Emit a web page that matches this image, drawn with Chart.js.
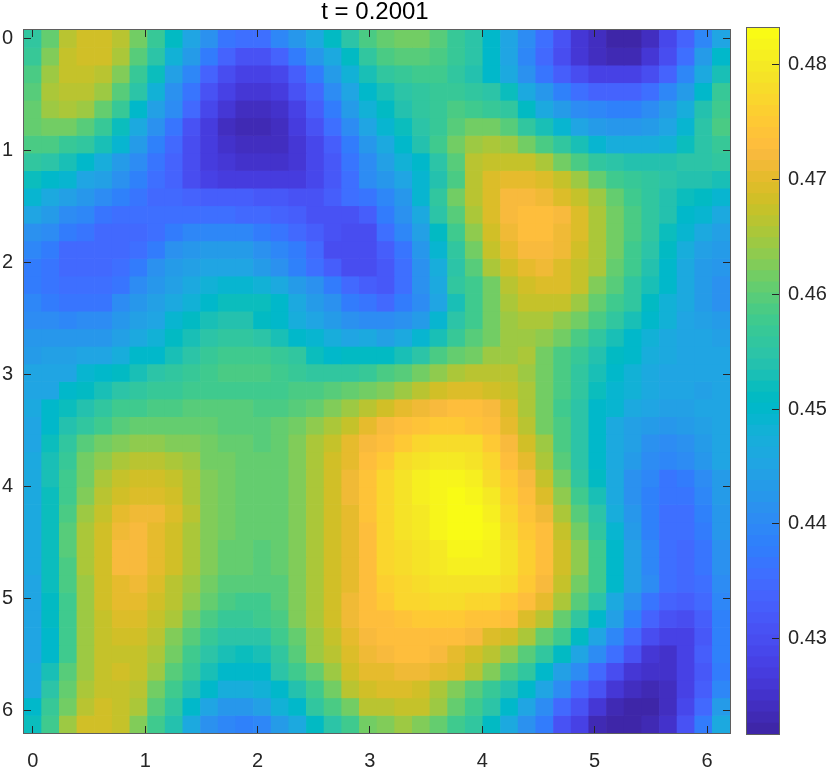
<!DOCTYPE html>
<html>
<head>
<meta charset="utf-8">
<title>t = 0.2001</title>
<script src="https://cdn.jsdelivr.net/npm/chart.js@4"></script>
<style>
    body { margin: 0; background: #fff; }
    canvas { position: absolute; top: 0; }
    #field { left: 0; }
    #bar { left: 746px; }
</style>
</head>
<body>
<canvas id="field" width="750" height="767"></canvas>
<canvas id="bar" width="84" height="767"></canvas>
<script>
const titleText = "t = 0.2001";
const xTicks = [0, 1, 2, 3, 4, 5, 6];
const yTicks = [0, 1, 2, 3, 4, 5, 6];
const barTicks = [0.43, 0.44, 0.45, 0.46, 0.47, 0.48];
const cellStep = 0.15708;
const axisMin = -0.07854;
const axisMax = 6.20465;
const zMin = 0.4217;
const zMax = 0.4832;

// field values, in thousandths. one row per y cell, top to bottom
const field = [
[455.5,460.5,466,468,468.3,466,462,457,451,445.5,441,437,436,436,439,442.5,446.5,451,455,458.5,461,462,462,459.5,457,455,450.5,445,440,435.5,430.5,426.5,424,422,422,424.5,428.5,434,439.5,445.5],
[456.5,463,467,468,468,465.5,460,455,448,443,437.5,433.5,431,431,433.5,437.5,442,446.5,451,455.5,459,459.5,460,458.5,456.5,454.5,450,445,439,434.5,429.5,426,424,423.2,423.6,426,430,436,443.5,450.5],
[458.5,464.5,467,467.5,466.5,462.5,457,451.5,444.5,439,434,430,428,427.8,429,432.5,438,443.5,448,452.5,456,457,457.5,457.5,456,454,450.5,446,441,436.5,433,430,428,427.5,428,430,434,439,446.5,453],
[460,465,466.5,466,464.5,459.5,454.5,448,441,436.5,430.5,427.5,426.3,426,427.3,430.5,435,440.5,445.5,450.5,453,455,456,456.5,456.5,455.5,454.5,451.5,446.5,442.5,438.5,435.5,434,433.5,434,435.5,439,443.5,450,456.5],
[460.5,464,465,464,460.5,456.5,450.5,444.5,440,434.5,429,426,424.5,424.3,425.5,428,433,438,443.5,448,451,453.5,455.5,457,458.5,458,457,455.5,451,446.5,443.5,440.5,439,438.5,438.5,440.5,443.5,447.5,454,457.5],
[461,462,462,459.5,456.5,452,446.5,441,436.5,431,427,424.5,423.5,423.3,424.2,427,431,436,440.5,445,449,452,455,457,460,461.5,461.5,459.5,456,452.5,449,445,443,442.5,442.5,443,445.5,449,455,458.5],
[458.5,458.5,457,455.5,452.5,449,443,438.5,435,430,427,424.8,424,423.8,424.3,426,429,433,437.5,442.5,446.5,450,454,457.5,462,464.5,465.5,464,461.5,458.5,456,452.5,449.5,447.5,447,447,448.5,452,455,457],
[455.5,455,453,450,447.5,443.5,440,437,433.5,429.5,427.2,425.8,425,424.8,425,426.3,428.7,431.8,436.5,440.5,444.5,448,450,455,460,466,467.5,467.5,467,465,461.5,458.5,456,454.5,453.5,453.5,453.5,454.5,455,455.5],
[452,450.5,449,445.5,444,441,438.5,435.5,433.5,430,428,427.3,426.8,426.8,426.8,427.2,428.5,431.5,436,440.5,442.5,445,449,454,459,466,469.5,470,470,469.5,467,464,460.5,458,457,455.5,454.5,453.5,453.5,453],
[449.5,446,444.5,442,440.5,438.5,436.5,435,435,433.5,432.5,432.5,432.5,432,431.5,431,431,432.5,435.5,437,439.5,442.5,449.5,456,461.5,466,469.5,472,472,471.5,469.5,467,464,460.5,458,455.5,454,452,451,449.5],
[445,443,440.5,439,437,436,436,436,435.5,435.5,435.5,435.5,435,434.5,433.5,433,431,430.5,431,433,437.5,441,446,454.5,460,465.5,469,472,473,473,472,469,465.5,461.5,459,456,453.5,450.5,449,446.5],
[441.5,440.5,438,436.5,435,435,435,436,437.5,439,439,439,439,438,437,435,433,430.5,430,430,435.5,439,444.5,451,458,463.5,468,471,473,473,471.5,469,465.5,461.5,458.5,455.5,451.5,449.5,446,444.5],
[439,437.5,435,434.5,434.5,435,436,438,441,442,443,443,443,441,439.5,437.5,434.5,430,429.5,429.5,432.5,437,442.5,449.5,456,461.5,467,470.5,472,472.5,471,468.5,465.5,461.5,458,455,451,447.5,444.5,443],
[438,437,435,434.5,434.5,435.5,437.5,441,443,444,445,445,445,443,441,438.5,435.5,433,429.5,429.5,431.5,436,441,447.5,455,460,465,468,470,471,469.5,467.5,465,461,457.5,453.5,450,446,443,442],
[438,437,435.5,435.5,435.5,437,440,442.5,444,446.5,448,449,449,448,446.5,443,441,437.5,435,433,431.5,435.5,441,446.5,455.5,458,462,466.5,468.5,469.5,469,467,463,460,455.5,452.5,450,446,443,441],
[439,438,437,436.5,437,440,442.5,444.5,446,448.5,450.5,451.5,451.5,451.5,450,446.5,443.5,441,438,437,434.5,437.5,440.5,445.5,453,458,461.5,465.5,467,467.5,467,464,461,458,455.5,451,448,446,443,441],
[440.5,440,439,440,440,442.5,444,445.5,449.5,451,452.5,453.5,453.5,451,450,447.5,445,443,441,440.5,440,441,443,449.5,455,458,461.5,464.5,465.5,465.5,463.5,461.5,458.5,455.5,452.5,450,448,445.5,444,443],
[442.5,442.5,442.5,442.5,442.5,444.5,446,448.5,451,453,455,456,456,454.5,452.5,450,449.5,447.5,445.5,446,444.5,446,449.5,453,456.5,459.5,461.5,464,464.5,463.5,461.5,459,455.5,452.5,450,448,446.5,445.5,445,444.5],
[443.5,444,444.5,445,445,447,450,450,453,455,456.5,457.5,457.5,457.5,457,455.5,452,450.5,451,451,451,452.5,454.5,458.5,461,462,464.5,464.5,465,462,459,456.5,453.5,451,450,447.5,446,445.5,445,445],
[445,445,445.5,449,450,451,452.5,454.5,455.5,456.5,458,458.5,458.5,458.5,458,457,456,456,456,457,458.5,460,462,463.5,465,466,466,466,464.5,461.5,458.5,455.5,452.5,450,448,446.5,445.5,445,445,445],
[445,445.5,450.5,451,452.5,454.5,455.5,456.5,457,457.5,458,458,458,458,458,458.5,459,459.5,461,462,463,464.5,466,468,469.5,469.5,468.5,467,465,461.5,458.5,455.5,452,449.5,448,446,445.5,445,444.5,445],
[446,450,451.5,453.5,455.5,457.5,458,458.5,459,459.5,459.5,459.5,459.5,459,459,459.5,460.5,462.5,464.5,466.5,468,470,471,472.5,473,473,472,469,465.5,461.5,458,454.5,450.5,449.5,446.5,445,444.5,444.5,445,445.5],
[445.5,450.5,453.5,455.5,458,460,460.5,461,461,461,460.5,460,460,460,460.5,461.5,463.5,465.5,467.5,470,472,473,474,475,475.5,474.5,473,470.5,466.5,462,458.5,454.5,450,446.5,444.5,443,442.5,443,444.5,445.5],
[445.5,452,456,459.5,461.5,463,463.5,463.5,463,462.5,462,461,460.5,460,461,462.5,465,467.5,470,472,473.5,475,476.5,477.5,478,477.5,475,472,468,464,459,454.5,450,446,444,441.5,440.5,441,443,445.5],
[446,452.5,457,461.5,463.5,465.5,466.5,466.5,465.5,464,462,461.5,460.5,460.5,460.5,462.5,465,468,470.5,473.5,475,477.5,478.5,479.5,480,479,476.5,473,470,465.5,459.5,454.5,450.5,446,443,440.5,439,440,442,445],
[446,452.5,457.5,462,465.5,467.5,468,468,467,465,463,461.5,460.5,460.5,460.5,462.5,465,468,471,474,476.5,479,480.5,482,482,480.5,478,475,472,467.5,461.5,456,451,446,441.5,439,437,437.5,440.5,443.5],
[446,452,458,463,466.5,468.5,469.5,469.5,468,465.5,463,461.5,460.5,460.5,460.5,462.5,465,468,471,474,477,479,480.5,482,483,482,480,476,473,469.5,463.5,457.5,452.5,446.5,441.5,438.5,436.5,436.5,439.5,443],
[446,452,459,464.5,467.5,470,471,471,469.5,466,463,461.5,460.5,460.5,460.5,462.5,465,468,470.5,474,477,479,480,481.5,483,483,481,477,474,471,465.5,460,454.5,447.5,442,438.5,436,436,438.5,442.5],
[446,452,459.5,465,468,471.5,472,470,468.5,465.5,463,461.5,460.5,460.5,460.5,462.5,465.5,468,470.5,473.5,477,478.5,480,481.5,483,483,481.5,477.5,475,473,467,461.5,456,449,443,438.5,435.5,435.5,437.5,442],
[446,452,459.5,465,468.5,472,472.5,470.5,468.5,465.5,463,461,460.5,460,460.5,462.5,465.5,468,470.5,473.5,476.5,478,479,480,481.5,482,481,479,476,473,468.5,463.5,457.5,450.5,444,439,436,435,437,441.5],
[446,452,459,465,468.5,472,472,470.5,468,465.5,463,461,460.5,460,460.5,462.5,465.5,468,470.5,473.5,476.5,477.5,479,479.5,480.5,480.5,480.5,479,476,473,468.5,463.5,457.5,450,444,439.5,435.5,434.5,436.5,441],
[445.5,451.5,458.5,464.5,468,470.5,471,469.5,466.5,464,461.5,460,459.5,459.5,460,462.5,465.5,468.5,470.5,473.5,476,477,478,479,479,479,478.5,477.5,475,472.5,467,462,457.5,450,444.5,440,436,434.5,436,440.5],
[445,451,458,464,468,470,470,468,466.5,463.5,461,459,458,458,460,462.5,465.5,468.5,471,473.5,475,476.5,477,477.5,477.5,477,476.5,475,473,470,465,459.5,454.5,446.5,441.5,437,434,432.5,434.5,439.5],
[445,451,458,464,467.5,469.5,469.5,467.5,465.5,461.5,459,457,456.5,457.5,459,462.5,465.5,468.5,471.5,473,473.5,474.5,475,475,475,474.5,474,473,469.5,466.5,461,455.5,450,444,438.5,433.5,430.5,429.5,432.5,438.5],
[445,450.5,458,464,467.5,468.5,468.5,466,463,459.5,457,455,454.5,455,457.5,461,464.5,467.5,470,472.5,473,473,473.5,473,473,472,469.5,468,465,461,458,451,445,439.5,435,430,428,428,431.5,438.5],
[445.5,450.5,458,464,467,467.5,467,465,461.5,458,455,452.5,452,453,456,459.5,464,466.5,469.5,471,472.5,473,473,472,470,468.5,466.5,463.5,460,456,451,445,440,435.5,430.5,426.5,425,427.5,432.5,438.5],
[446,453,459.5,464.5,467,468,467,464,460,456.5,452.5,450.5,450,450.5,454.5,458,461,464.5,468,470,470.5,471,471,470.5,469,466,462.5,459,455.5,450.5,444.5,440,435,430,426,425,425,428,431.5,438],
[446.5,454.5,461,465.5,467.5,467.5,466,461.5,458,453.5,450,447,447,448,450.5,453.5,458,462,466,468.5,469,469,468,465.5,463,460,456.5,454,450,445,440,435,430.5,426.5,424.5,423.5,424.5,428,433,439.5],
[450,457,462,466.5,468,467.5,465,460,456,450.5,445,442.5,442.5,444,448,450.5,455.5,459,462,466,466,467,467,464,461,458,455,450.5,445,440.5,435,430.5,426.5,423.5,422.5,422.5,424.5,428.5,434.5,443],
[451.5,458,464.5,468,468.5,467,463,458,453.5,446,441,439,438.5,439,443,446,451,455,458,461.5,462.5,464,463,461,458,455.5,451,446,441,437.5,431,428,423.5,422,422,423,425,430.5,437.5,446]
];

// parula, 64 steps
const parula = [
[0.2422,0.1504,0.6603],[0.2504,0.1650,0.7076],[0.2578,0.1818,0.7511],[0.2647,0.1978,0.7952],
[0.2706,0.2147,0.8364],[0.2751,0.2342,0.8710],[0.2783,0.2559,0.8991],[0.2803,0.2782,0.9221],
[0.2813,0.3006,0.9414],[0.2810,0.3228,0.9579],[0.2795,0.3447,0.9717],[0.2760,0.3667,0.9829],
[0.2699,0.3892,0.9906],[0.2602,0.4123,0.9952],[0.2440,0.4358,0.9988],[0.2206,0.4603,0.9973],
[0.1963,0.4847,0.9892],[0.1834,0.5074,0.9798],[0.1786,0.5289,0.9682],[0.1764,0.5499,0.9520],
[0.1687,0.5703,0.9359],[0.1540,0.5902,0.9218],[0.1460,0.6091,0.9079],[0.1380,0.6276,0.8973],
[0.1248,0.6459,0.8883],[0.1113,0.6635,0.8763],[0.0952,0.6798,0.8598],[0.0689,0.6948,0.8394],
[0.0297,0.7082,0.8163],[0.0036,0.7203,0.7917],[0.0067,0.7312,0.7660],[0.0433,0.7411,0.7394],
[0.0964,0.7500,0.7120],[0.1408,0.7584,0.6842],[0.1717,0.7670,0.6554],[0.1938,0.7758,0.6251],
[0.2161,0.7843,0.5923],[0.2470,0.7918,0.5567],[0.2906,0.7973,0.5188],[0.3406,0.8008,0.4789],
[0.3909,0.8029,0.4354],[0.4456,0.8024,0.3909],[0.5044,0.7993,0.3480],[0.5616,0.7942,0.3045],
[0.6174,0.7876,0.2612],[0.6720,0.7793,0.2227],[0.7242,0.7698,0.1910],[0.7738,0.7598,0.1646],
[0.8203,0.7498,0.1535],[0.8634,0.7406,0.1596],[0.9035,0.7330,0.1774],[0.9393,0.7288,0.2100],
[0.9728,0.7298,0.2394],[0.9956,0.7434,0.2371],[0.9970,0.7659,0.2199],[0.9952,0.7893,0.2028],
[0.9892,0.8136,0.1885],[0.9786,0.8386,0.1766],[0.9676,0.8639,0.1643],[0.9610,0.8890,0.1537],
[0.9597,0.9135,0.1423],[0.9628,0.9373,0.1265],[0.9691,0.9606,0.1064],[0.9769,0.9839,0.0805]
];

const css = c => "rgb(" + c.map(v => Math.round(v * 255)).join(",") + ")";
const colorOf = z => {
    let i = Math.floor((z - zMin) / (zMax - zMin) * parula.length);
    i = Math.max(0, Math.min(parula.length - 1, i));
    return css(parula[i]);
};

const font = { family: "'Liberation Sans', Arial, sans-serif", size: 20 };
const inkColor = "#262626";
const tickLen = -7;

// the box around both plots
const frame = {
    id: "frame",
    afterDatasetsDraw(chart) {
        const a = chart.chartArea, ctx = chart.ctx;
        ctx.save();
        ctx.strokeStyle = "#5f5f5f";
        ctx.lineWidth = 1;
        ctx.strokeRect(a.left - 0.5, a.top - 0.5, a.right - a.left + 1, a.bottom - a.top + 1);
        ctx.restore();
    }
};

function axis(position, tickValues, size, labels, padding, extra) {
    return Object.assign({
        type: "linear",
        position: position,
        min: axisMin,
        max: axisMax,
        offset: false,
        afterBuildTicks(s) { s.ticks = tickValues.map(v => ({ value: v })); },
        afterFit(s) {
            if (s.isHorizontal()) s.height = size; else s.width = size;
        },
        border: { display: false },
        grid: { drawOnChartArea: false, tickLength: tickLen, tickColor: inkColor, tickWidth: 1, z: 1, offset: false },
        ticks: { display: labels, color: inkColor, font: font, padding: padding, maxRotation: 0, autoSkip: false }
    }, extra || {});
}

const fieldSets = field.map((row, r) => ({
    data: row.map((v, c) => ({ x: c * cellStep, y: [r * cellStep - cellStep / 2, r * cellStep + cellStep / 2] })),
    backgroundColor: row.map(v => colorOf(v / 1000)),
    grouped: false,
    barPercentage: 1,
    categoryPercentage: 1
}));

new Chart(document.getElementById("field"), {
    type: "bar",
    data: { datasets: fieldSets },
    options: {
        responsive: false,
        animation: false,
        plugins: {
            legend: { display: false },
            tooltip: { enabled: false },
            title: {
                display: true,
                text: titleText,
                color: "#000",
                font: { family: font.family, size: 24, weight: "normal", lineHeight: 0.85 },
                padding: { top: 0, bottom: 7.6 }
            }
        },
        scales: {
            x: axis("bottom", xTicks, 34, true, 23),
            x2: axis("top", xTicks, 0, false, 0),
            y: axis("left", yTicks, 24, true, 18, { reverse: true }),
            y2: axis("right", yTicks, 20, false, 0, { reverse: true })
        }
    },
    plugins: [frame]
});

// colour bar. the library paints the first dataset last, so each band runs
// from the bottom to its own top edge and the lower bands cover the rest
const bandTops = parula.map((c, i) => zMin + (zMax - zMin) * (i + 1) / parula.length);
const bandSets = parula.map((c, i) => ({
    data: [[zMin, bandTops[i]]],
    backgroundColor: css(c),
    grouped: false,
    barPercentage: 1,
    categoryPercentage: 1
}));

new Chart(document.getElementById("bar"), {
    type: "bar",
    data: { labels: [""], datasets: bandSets },
    options: {
        responsive: false,
        animation: false,
        layout: { padding: { left: 1, right: 0, top: 28, bottom: 33 } },
        plugins: { legend: { display: false }, tooltip: { enabled: false } },
        scales: {
            x: { display: false },
            y: axis("right", barTicks, 51, true, 16, {
                min: zMin,
                max: zMax,
                ticks: {
                    color: inkColor, font: font, padding: 16, autoSkip: false,
                    callback: v => v.toFixed(2)
                }
            })
        }
    },
    plugins: [frame]
});
</script>
</body>
</html>
